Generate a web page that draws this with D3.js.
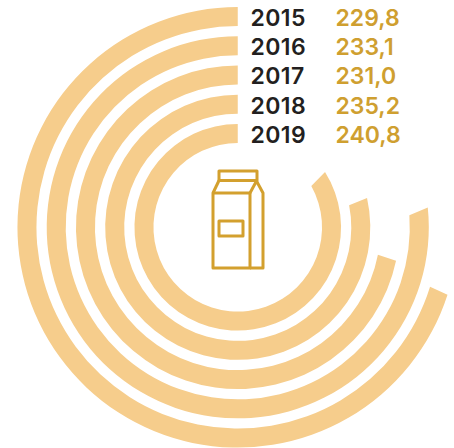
<!DOCTYPE html>
<html>
<head>
<meta charset="utf-8">
<script src="https://cdn.jsdelivr.net/npm/d3@7"></script>
<style>
html,body{margin:0;padding:0;background:#fff}
svg{display:block}
text{font-family:Inter,"Open Sans",sans-serif;font-weight:600}
</style>
</head>
<body>
<svg id="chart" width="454" height="448"></svg>
<script>
const years = ["2015","2016","2017","2018","2019"];
const values = [229.8,233.1,231.0,235.2,240.8];
const valueLabels = ["229,8","233,1","231,0","235,2","240,8"];

const svg = d3.select("#chart");
const cx = 237.75, cy = 227.3;
const bandWidth = 19, outerMax = 220.3, step = 29.25;
const rad = Math.PI/180;

// The sweep of each ring grows with its value, counter-clockwise from twelve o'clock.
const sweep = d3.scaleLinear()
  .domain([229.8,231.0,233.1,235.2,240.8])
  .range([252.5,258.5,275,282,300.8]);

// Ring ends are cut slightly off the radial line; degrees between outer and inner edge.
const capSkew = [-0.6,1.9,-0.9,1.5,3.1];

function ringPath(v,i){
  const r1 = outerMax-step*i, r0 = r1-bandWidth;
  const a = sweep(v);
  const aOut = (-90-(a+capSkew[i]/2))*rad, aIn = (-90-(a-capSkew[i]/2))*rad;
  const start = -90*rad;
  const p = d3.path();
  p.moveTo(r1*Math.cos(start),r1*Math.sin(start));
  p.arc(0,0,r1,start,aOut,true);
  p.lineTo(r0*Math.cos(aIn),r0*Math.sin(aIn));
  p.arc(0,0,r0,aIn,start,false);
  p.closePath();
  return p.toString();
}

svg.append("g").attr("transform",`translate(${cx},${cy})`)
  .selectAll("path").data(values).join("path")
  .attr("fill","#F6CD8C")
  .attr("d",ringPath);

const rowY = d3.scalePoint().domain(years).range([25.5,143]);
const rows = svg.append("g").attr("font-size",23);
rows.selectAll("text.year").data(years).join("text")
  .attr("class","year")
  .attr("x",250.5).attr("y",d=>rowY(d))
  .attr("fill","#231F20").attr("letter-spacing",0.4)
  .text(d=>d);
rows.selectAll("text.val").data(valueLabels).join("text")
  .attr("class","val")
  .attr("x",335.5).attr("y",(d,i)=>rowY(years[i]))
  .attr("fill","#CF9F30")
  .text(d=>d);

// Milk carton pictogram
const carton = svg.append("g")
  .attr("fill","none").attr("stroke","#D3A02E").attr("stroke-width",3).attr("stroke-linejoin","round");
carton.append("rect").attr("x",219).attr("y",171).attr("width",38).attr("height",9.5);
carton.append("path").attr("d","M213 193H250V268H213Z");
carton.append("path").attr("d","M250 268H263V193L256.5 181L250 193");
carton.append("path").attr("d","M213 193L219 180.5");
carton.append("rect").attr("x",219).attr("y",221).attr("width",24).attr("height",15);
</script>
</body>
</html>
